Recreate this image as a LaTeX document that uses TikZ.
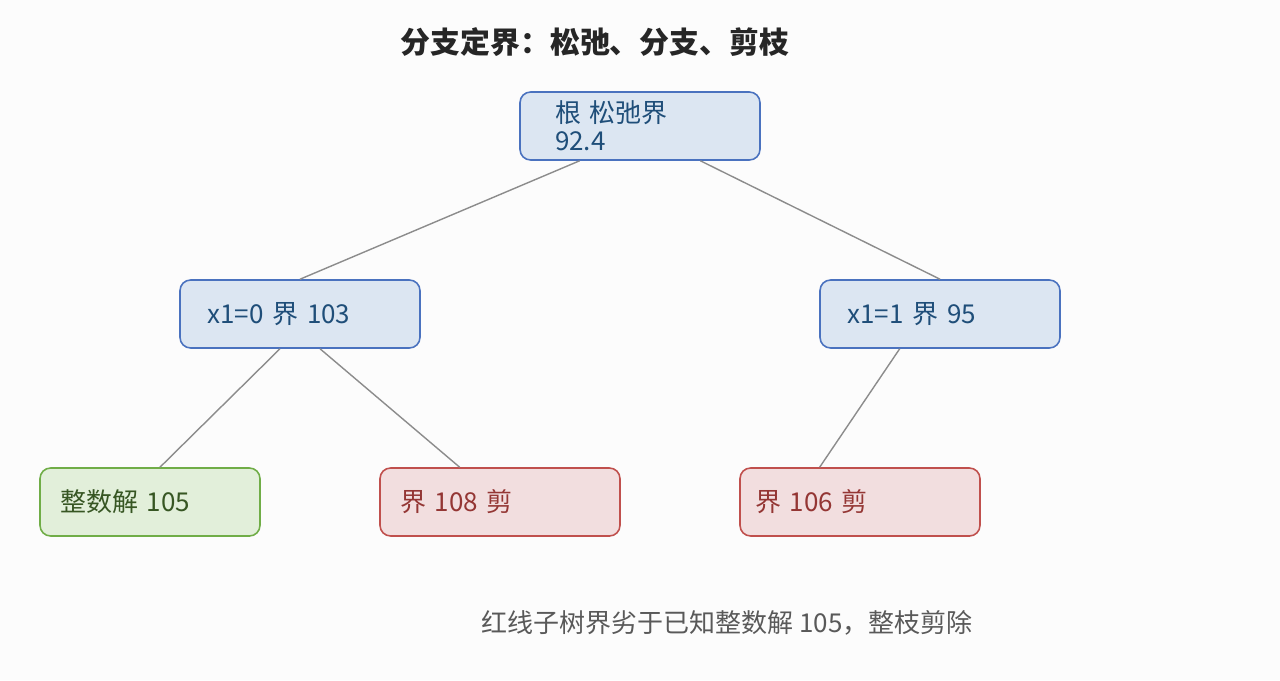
\documentclass[tikz,border=0pt]{standalone}
\usepackage{fontspec}
\setmainfont{Noto Sans CJK SC}
\usetikzlibrary{positioning, calc}
\definecolor{bluefill}{HTML}{DCE6F2}
\definecolor{blueline}{HTML}{4A72BF}
\definecolor{bluetext}{HTML}{1F4E79}
\definecolor{greenfill}{HTML}{E2EFDA}
\definecolor{greenline}{HTML}{70AD47}
\definecolor{greentext}{HTML}{375623}
\definecolor{redfill}{HTML}{F2DEDF}
\definecolor{redline}{HTML}{C0504D}
\definecolor{redtext}{HTML}{943634}
\tikzset{
  box/.style={draw, rounded corners=6pt, line width=0.9pt, minimum height=1.36cm, font=\fontsize{14.8pt}{16pt}\selectfont, inner xsep=0.5cm, align=left, anchor=center},
  bnode/.style={box, fill=bluefill, draw=blueline, text=bluetext, text width=3.7cm, minimum width=4.8cm},
  gnode/.style={box, fill=greenfill, draw=greenline, text=greentext, text width=3.6cm, minimum width=4.4cm, inner xsep=0.4cm},
  rnode/.style={box, fill=redfill, draw=redline, text=redtext, text width=4.0cm, minimum width=4.8cm, inner xsep=0.4cm},
  edge/.style={draw=gray!90, line width=0.8pt}
}
\begin{document}
\begin{tikzpicture}[x=0.02cm, y=-0.02cm]
  \fill[white!98!gray] (0,0) rectangle (1280,680);
  \useasboundingbox (0,0) rectangle (1280,680);

  \node[font=\fontsize{17pt}{19pt}\selectfont\bfseries, text=black!85] (title) at (595,42) {分支定界：松弛、分支、剪枝};

  \node[bnode, text width=3.4cm, inner xsep=0.7cm] (root) at (640,126) {根 松弛界 92.4};
  \node[bnode, inner xsep=0.55cm] (left) at (300,314) {x1=0 界 103};
  \node[bnode, inner xsep=0.55cm] (right) at (940,314) {x1=1 界 95};
  \node[gnode] (int) at (150,502) {整数解 105};
  \node[rnode] (cutA) at (500,502) {界 108 剪};
  \node[rnode, inner xsep=0.3cm, text width=4.2cm] (cutB) at (860,502) {界 106 剪};

  \path[edge] ($(root.south west)!.25!(root.south east)$) -- (left.north);
  \path[edge] ($(root.south west)!.75!(root.south east)$) -- (right.north);
  \path[edge] ($(left.south west)!.417!(left.south east)$) -- ($(int.north west)!.545!(int.north east)$);
  \path[edge] ($(left.south west)!.583!(left.south east)$) -- ($(cutA.north west)!.333!(cutA.north east)$);
  \path[edge] ($(right.south west)!.333!(right.south east)$) -- ($(cutB.north west)!.333!(cutB.north east)$);

  \node[font=\fontsize{14.8pt}{16pt}\selectfont, text=black!65] (note) at (727,623) {红线子树界劣于已知整数解 105，整枝剪除};
\end{tikzpicture}
\end{document}
